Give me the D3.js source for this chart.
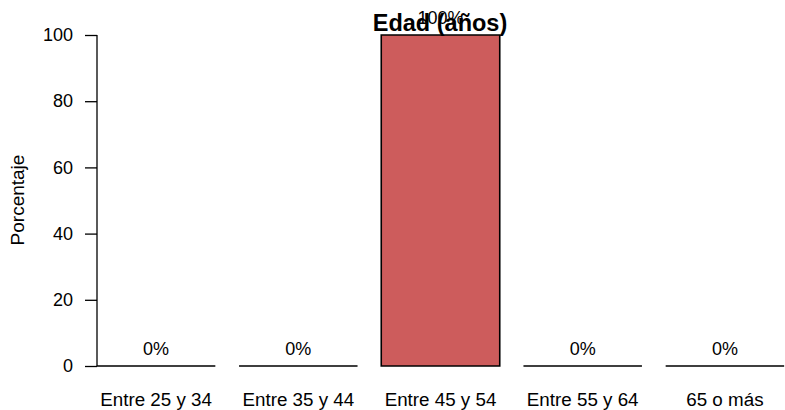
<!DOCTYPE html>
<html>
<head>
<meta charset="utf-8">
<script src="https://cdn.jsdelivr.net/npm/d3@7"></script>
<style>
  body { margin: 0; background: white; }
  text { font-family: "Liberation Sans", Arial, sans-serif; }
</style>
</head>
<body>
<div id="chart"></div>
<script>
var categories = ["Entre 25 y 34", "Entre 35 y 44", "Entre 45 y 54", "Entre 55 y 64", "65 o más"];
var values = [0, 0, 100, 0, 0];
var yTicks = [0, 20, 40, 60, 80, 100];

var width = 785;
var height = 410;

var svg = d3.select("#chart").append("svg")
  .attr("width", width)
  .attr("height", height);

var x = d3.scaleBand()
  .domain(categories)
  .range([85, 796])
  .paddingInner(0.1667)
  .paddingOuter(0.0833);

var y = d3.scaleLinear()
  .domain([0, 100])
  .range([366, 35]);

// bars as closed paths so that zero-height bars still show their outline
svg.selectAll("path.bar")
  .data(values)
  .enter().append("path")
  .attr("class", "bar")
  .attr("d", function(d, i) {
    var x0 = x(categories[i]);
    var x1 = x0 + x.bandwidth();
    return "M" + x0 + "," + y(0) + "V" + y(d) + "H" + x1 + "V" + y(0) + "Z";
  })
  .attr("fill", "#CD5C5C")
  .attr("stroke", "black")
  .attr("stroke-width", 1.6);

// percent labels
svg.selectAll("text.pct")
  .data(values)
  .enter().append("text")
  .attr("class", "pct")
  .attr("x", function(d, i) { return x(categories[i]) + x.bandwidth() / 2; })
  .attr("y", function(d) { return y(d) - 11; })
  .attr("text-anchor", "middle")
  .attr("font-size", 18)
  .text(function(d) { return d + "%"; });

// y axis
var yAxis = d3.axisLeft(y)
  .tickValues(yTicks)
  .tickSize(12)
  .tickPadding(12);

var gy = svg.append("g")
  .attr("transform", "translate(97,0)")
  .call(yAxis);
gy.select(".domain").attr("stroke-width", 1.3).attr("d", "M0," + y(0) + "V" + y(100));
gy.selectAll(".tick line").attr("stroke-width", 1.3);
gy.selectAll(".tick text")
  .attr("font-size", 18)
  .attr("font-family", "Liberation Sans, Arial, sans-serif")
  .attr("fill", "black");

// x labels
svg.selectAll("text.cat")
  .data(categories)
  .enter().append("text")
  .attr("class", "cat")
  .attr("x", function(d) { return x(d) + x.bandwidth() / 2; })
  .attr("y", 406)
  .attr("text-anchor", "middle")
  .attr("font-size", 18.8)
  .text(function(d) { return d; });

// y label
svg.append("text")
  .attr("transform", "translate(24,200) rotate(-90)")
  .attr("text-anchor", "middle")
  .attr("font-size", 19)
  .text("Porcentaje");

// title
svg.append("text")
  .attr("x", 440)
  .attr("y", 31)
  .attr("text-anchor", "middle")
  .attr("font-size", 23.5)
  .attr("font-weight", "bold")
  .text("Edad (años)");
</script>
</body>
</html>
